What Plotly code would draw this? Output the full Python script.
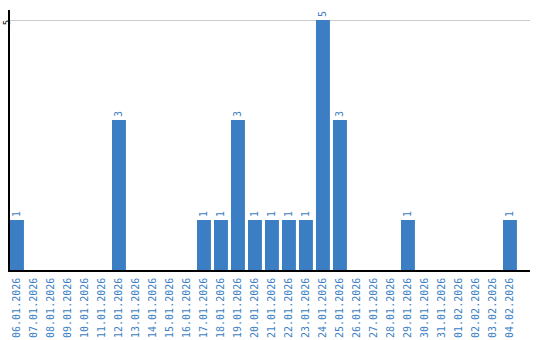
import plotly.graph_objects as go

dates = ["06.01.2026", "07.01.2026", "08.01.2026", "09.01.2026", "10.01.2026",
         "11.01.2026", "12.01.2026", "13.01.2026", "14.01.2026", "15.01.2026",
         "16.01.2026", "17.01.2026", "18.01.2026", "19.01.2026", "20.01.2026",
         "21.01.2026", "22.01.2026", "23.01.2026", "24.01.2026", "25.01.2026",
         "26.01.2026", "27.01.2026", "28.01.2026", "29.01.2026", "30.01.2026",
         "31.01.2026", "01.02.2026", "02.02.2026", "03.02.2026", "04.02.2026"]
counts = [1, 0, 0, 0, 0, 0, 3, 0, 0, 0,
          0, 1, 1, 3, 1, 1, 1, 1, 5, 3,
          0, 0, 0, 1, 0, 0, 0, 0, 0, 1]

blue = "#3b7ec3"
labels = [str(v) if v > 0 else "" for v in counts]

fig = go.Figure(go.Bar(
    x=list(range(len(dates))), y=counts,
    marker=dict(color=blue, line=dict(width=0)),
    width=0.82,
    text=labels, textposition="outside", textangle=-90,
    textfont=dict(family="DejaVu Sans Mono", size=10, color=blue),
    constraintext="none", cliponaxis=False,
))

fig.update_layout(
    width=540, height=340,
    margin=dict(l=10, r=10, t=10, b=70),
    plot_bgcolor="white", paper_bgcolor="white",
    showlegend=False,
    xaxis=dict(
        range=[-0.41, 30.18],
        tickvals=list(range(len(dates))), ticktext=dates,
        tickangle=-90,
        tickfont=dict(family="DejaVu Sans Mono", size=10, color=blue),
        showline=True, linecolor="black", linewidth=1.5,
        showgrid=False, ticks="", zeroline=False,
        automargin=False, ticklabelstandoff=2,
    ),
    yaxis=dict(
        range=[0, 5.2],
        tickvals=[5], ticktext=["5"],
        tickangle=-90,
        tickfont=dict(family="DejaVu Sans Mono", size=9, color="black"),
        showline=True, linecolor="black", linewidth=1.5,
        showgrid=True, gridcolor="#cccccc", gridwidth=1,
        ticks="", zeroline=False, ticklabelstandoff=-5,
        ticklabelshift=4,
        automargin=False,
    ),
)

fig.write_html("out.html")
